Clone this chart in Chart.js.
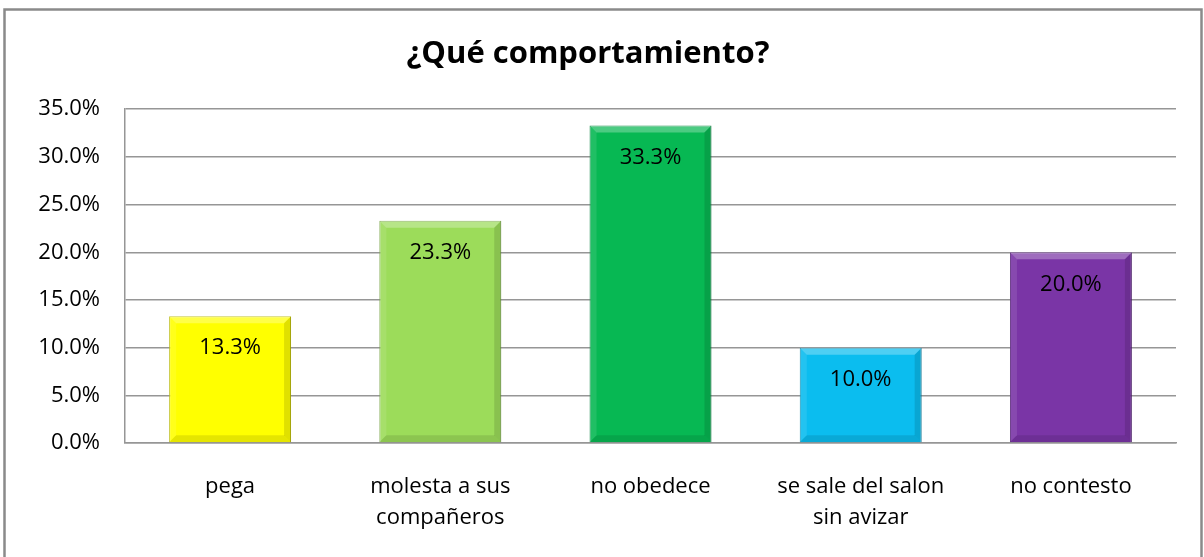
<!DOCTYPE html>
<html>
<head>
<meta charset="utf-8">
<script src="https://cdn.jsdelivr.net/npm/chart.js@4/dist/chart.umd.min.js"></script>
<style>
  html, body { margin: 0; padding: 0; background: #fff; }
  #wrap { position: relative; width: 1204px; height: 557px; }
</style>
</head>
<body>
<div id="wrap"><canvas id="c" width="1204" height="557"></canvas></div>
<script>
const title = '¿Qué comportamiento?';
const categories = [['pega'], ['molesta a sus', 'compañeros'], ['no obedece'], ['se sale del salon', 'sin avizar'], ['no contesto']];
const values = [13.3, 23.3, 33.3, 10.0, 20.0];
const barColors = ['#FFFF00', '#9CDC5A', '#07B853', '#0BBDEF', '#7A35A6'];
const borderColors = ['#B8B800', '#6E9E3A', '#04803A', '#0784A8', '#552277'];
const yMin = 0, yMax = 35, yStep = 5;

const FONT = '"Open Sans", Lato, sans-serif';

const framePlugin = {
  id: 'frame',
  beforeDraw(chart) {
    const ctx = chart.ctx;
    ctx.save();
    ctx.fillStyle = '#fff';
    ctx.fillRect(0, 0, chart.width, chart.height);
    ctx.strokeStyle = '#8a8a8a';
    ctx.lineWidth = 2.5;
    ctx.beginPath();
    ctx.moveTo(4.5, 560);
    ctx.lineTo(4.5, 9.5);
    ctx.lineTo(1201.5, 9.5);
    ctx.lineTo(1201.5, 560);
    ctx.stroke();
    ctx.restore();
  }
};

// subtle bevel on each bar, using the bar geometry computed by Chart.js
const bevelPlugin = {
  id: 'bevel',
  afterDatasetsDraw(chart) {
    const ctx = chart.ctx;
    const meta = chart.getDatasetMeta(0);
    const b = 7;
    ctx.save();
    meta.data.forEach((bar) => {
      const l = bar.x - bar.width / 2, r = bar.x + bar.width / 2;
      const t = bar.y, btm = bar.base;
      const poly = (pts, color) => {
        ctx.beginPath();
        ctx.moveTo(pts[0][0], pts[0][1]);
        for (let i = 1; i < pts.length; i++) ctx.lineTo(pts[i][0], pts[i][1]);
        ctx.closePath();
        ctx.fillStyle = color;
        ctx.fill();
      };
      poly([[l, t], [r, t], [r - b, t + b], [l + b, t + b]], 'rgba(255,255,255,0.28)');
      poly([[l, t], [l + b, t + b], [l + b, btm - b], [l, btm]], 'rgba(255,255,255,0.10)');
      poly([[r, t], [r, btm], [r - b, btm - b], [r - b, t + b]], 'rgba(0,0,0,0.12)');
      poly([[l, btm], [l + b, btm - b], [r - b, btm - b], [r, btm]], 'rgba(0,0,0,0.10)');
    });
    ctx.restore();
  }
};

const labelPlugin = {
  id: 'barLabels',
  afterDatasetsDraw(chart) {
    const ctx = chart.ctx;
    const meta = chart.getDatasetMeta(0);
    ctx.save();
    ctx.font = '22px ' + FONT;
    ctx.fillStyle = '#000';
    ctx.textAlign = 'center';
    ctx.textBaseline = 'middle';
    meta.data.forEach((bar, i) => {
      const v = chart.data.datasets[0].data[i];
      ctx.fillText(v.toFixed(1) + '%', bar.x, bar.y + 32);
    });
    ctx.restore();
  }
};

new Chart(document.getElementById('c'), {
  type: 'bar',
  data: {
    labels: categories,
    datasets: [{
      data: values,
      backgroundColor: barColors,
      borderColor: borderColors,
      borderWidth: 1,
      categoryPercentage: 1.0,
      barPercentage: 0.58
    }]
  },
  options: {
    responsive: false,
    animation: false,
    layout: { padding: { left: 0, right: 28, top: 0, bottom: 0 } },
    plugins: {
      legend: { display: false },
      tooltip: { enabled: false },
      title: {
        display: true,
        text: title,
        color: '#000',
        font: { family: FONT, size: 31, weight: 'bold', lineHeight: 1.2 },
        padding: { top: 36, bottom: 36 }
      }
    },
    scales: {
      x: {
        grid: { display: false, drawTicks: false },
        border: { display: true, color: '#969696', width: 1.5 },
        ticks: {
          color: '#000',
          font: { family: FONT, size: 22, lineHeight: 1.41 },
          padding: 28,
          maxRotation: 0,
          autoSkip: false
        },
        afterFit(scale) { scale.height = 114; }
      },
      y: {
        min: yMin,
        max: yMax,
        grid: { color: '#969696', lineWidth: 1.5, drawTicks: false },
        border: { display: true, color: '#969696', width: 1.5 },
        ticks: {
          stepSize: yStep,
          color: '#000',
          font: { family: FONT, size: 22 },
          padding: 25,
          callback: (v) => Number(v).toFixed(1) + '%'
        },
        afterFit(scale) { scale.width = 125; }
      }
    }
  },
  plugins: [framePlugin, bevelPlugin, labelPlugin]
});
</script>
</body>
</html>
